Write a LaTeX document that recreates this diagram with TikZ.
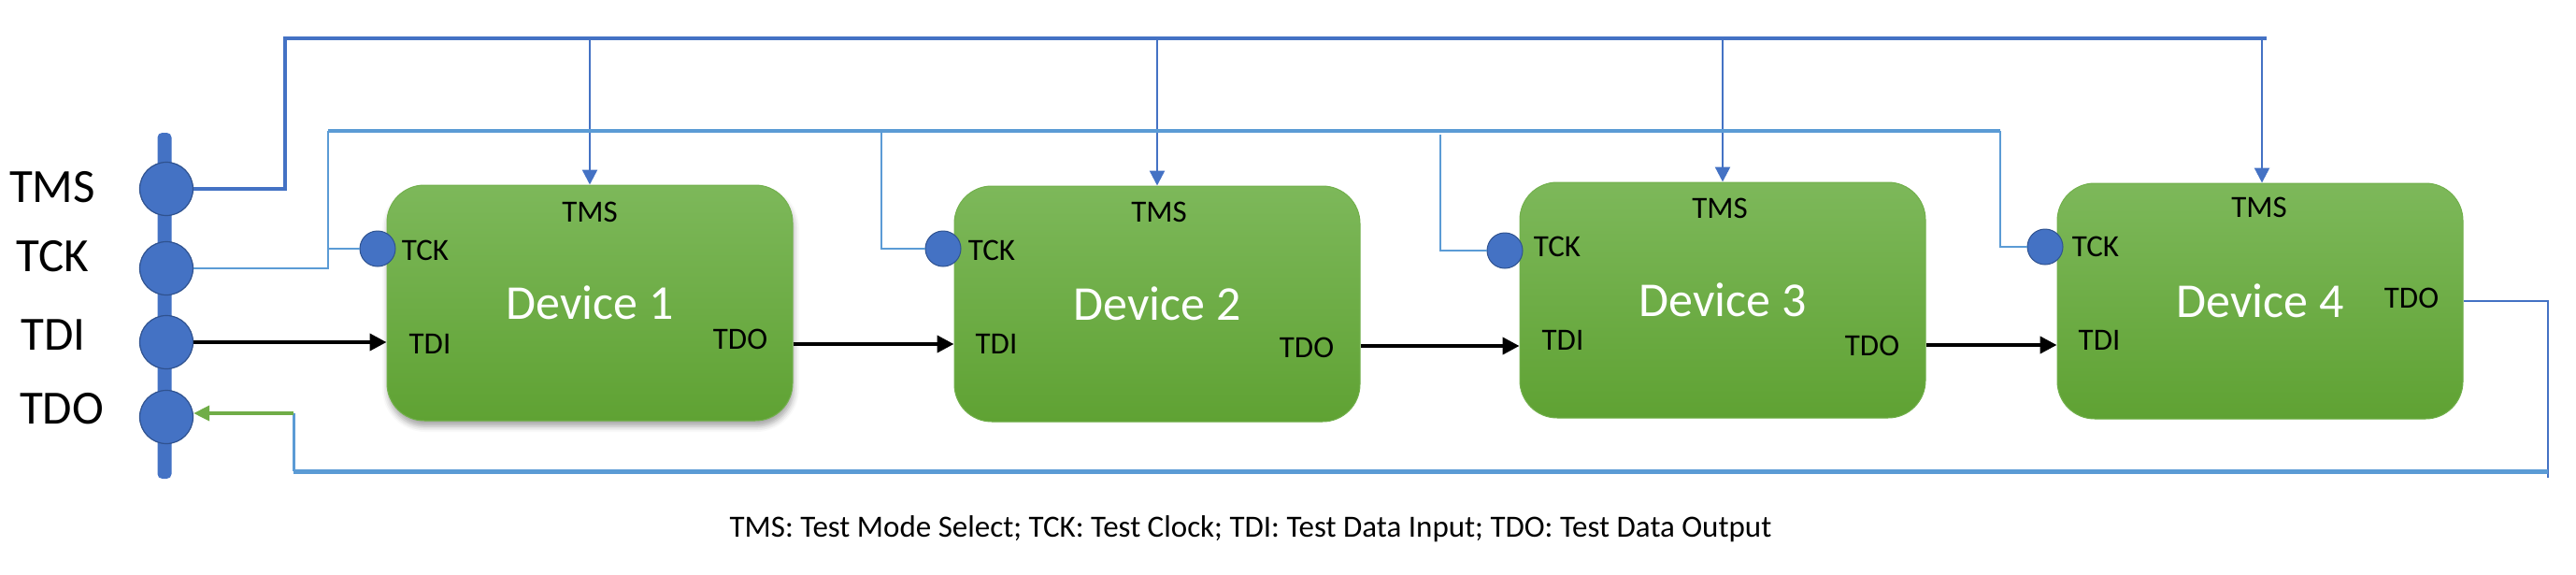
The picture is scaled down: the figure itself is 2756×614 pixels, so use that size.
\documentclass[tikz,border=0pt]{standalone}
\usepackage{fontspec}
\setmainfont{Carlito}
\usetikzlibrary{arrows.meta,shadows.blur}
\definecolor{tmsblue}{HTML}{4472C4}
\definecolor{tckblue}{HTML}{5B9BD5}
\definecolor{pinedge}{HTML}{2F528F}
\definecolor{gtop}{HTML}{7DB85A}
\definecolor{gbot}{HTML}{5FA233}
\definecolor{gedge}{HTML}{72B04C}
\definecolor{tdogreen}{HTML}{70AD47}
\begin{document}
\begin{tikzpicture}[x=1pt,y=-1pt,
  device/.style={rectangle, rounded corners=40pt, minimum width=434pt, minimum height=252pt,
    top color=gtop, bottom color=gbot, draw=gedge, line width=1pt, text=white,
    font=\fontsize{52}{60}\selectfont, inner sep=0pt},
  pin/.style={circle, fill=tmsblue, draw=pinedge, line width=1.2pt, minimum size=57pt, inner sep=0pt},
  port/.style={circle, fill=tmsblue, draw=pinedge, line width=1pt, minimum size=38pt, inner sep=0pt},
  pinlabel/.style={font=\fontsize{51}{60}\selectfont, inner sep=0pt},
  portlabel/.style={font=\fontsize{33}{40}\selectfont, inner sep=0pt},
  tmsbus/.style={draw=tmsblue, line width=3.5pt},
  tmsdrop/.style={draw=tmsblue, line width=2.5pt, -{Triangle[length=16pt,width=16pt]}},
  tckbus/.style={draw=tckblue, line width=4.5pt},
  tckline/.style={draw=tckblue, line width=2.5pt},
  dataarrow/.style={draw=black, line width=4pt, -{Triangle[length=18pt,width=18pt]}},
  retbus/.style={draw=tckblue, line width=5pt},
  retline/.style={draw=tmsblue, line width=2.5pt},
  retup/.style={draw=tckblue, line width=3pt},
  greenarrow/.style={draw=tdogreen, line width=3.5pt, -{Triangle[length=17pt,width=16pt]}}
]
\useasboundingbox (0,0) rectangle (2756,614);

% left connector bar and pins
\node[fill=tmsblue, rounded corners=5pt, minimum width=15pt, minimum height=370pt, inner sep=0pt] (bar) at (176,327) {};
\node[pin] (ptms) at (178,202) {};
\node[pin] (ptck) at (178,287) {};
\node[pin] (ptdi) at (178,366) {};
\node[pin] (ptdo) at (178,446) {};
\node[pinlabel] (ltms) at (56,200) {TMS};
\node[pinlabel] (ltck) at (56,274) {TCK};
\node[pinlabel] (ltdi) at (57,358) {TDI};
\node[pinlabel] (ltdo) at (66,437) {TDO};

% devices
\node[device, blur shadow={shadow xshift=1pt, shadow yshift=-6pt, shadow blur radius=6pt, shadow opacity=35}] (d1) at (631,324) {Device 1};
\node[device] (d2) at (1238,325) {Device 2};
\node[device] (d3) at (1843,321) {Device 3};
\node[device] (d4) at (2418,322) {Device 4};

% device port labels
\node[portlabel] (d1tms) at (631,227) {TMS};
\node[portlabel] (d1tck) at (455,268) {TCK};
\node[portlabel] (d1tdi) at (460,368) {TDI};
\node[portlabel] (d1tdo) at (792,363) {TDO};
\node[portlabel] (d2tms) at (1240,227) {TMS};
\node[portlabel] (d2tck) at (1061,268) {TCK};
\node[portlabel] (d2tdi) at (1066,368) {TDI};
\node[portlabel] (d2tdo) at (1398,372) {TDO};
\node[portlabel] (d3tms) at (1840,223) {TMS};
\node[portlabel] (d3tck) at (1666,264) {TCK};
\node[portlabel] (d3tdi) at (1672,364) {TDI};
\node[portlabel] (d3tdo) at (2003,370) {TDO};
\node[portlabel] (d4tms) at (2417,222) {TMS};
\node[portlabel] (d4tck) at (2242,264) {TCK};
\node[portlabel] (d4tdi) at (2246,364) {TDI};
\node[portlabel] (d4tdo) at (2580,319) {TDO};

% TCK port circles
\node[port] (c1) at (404,266) {};
\node[port] (c2) at (1009,266) {};
\node[port] (c3) at (1610,268) {};
\node[port] (c4) at (2188,264) {};

% bus coordinates
\coordinate (tmsL) at (305,41);
\coordinate (tmsR) at (2425,41);
\coordinate (tckL) at (351,140);
\coordinate (tck2) at (943,140);
\coordinate (tck3) at (1541,144);
\coordinate (tckR) at (2140,140);
\coordinate (retR) at (2726,511);
\coordinate (retBR) at (2726,504);
\coordinate (retBL) at (314,504);
\coordinate (g0) at (314,442);
\coordinate (o1) at ([yshift=-44pt]d1.east);
\coordinate (o2) at ([yshift=-45pt]d2.east);
\coordinate (o3) at ([yshift=-48pt]d3.east);

% TMS bus
\draw[tmsbus] (ptms.east) -| (tmsL) -- (tmsR);
\draw[tmsdrop] (tmsL -| d1.north) -- (d1.north);
\draw[tmsdrop] (tmsL -| d2.north) -- (d2.north);
\draw[tmsdrop] (tmsL -| d3.north) -- (d3.north);
\draw[tmsdrop] ([xshift=2pt]tmsL -| d4.north) -- ([xshift=2pt]d4.north);

% TCK bus
\draw[tckline] (ptck.east) -| (tckL);
\draw[tckbus] (tckL) -- (tckR);
\draw[tckline] (tckL |- c1) -- (c1.west);
\draw[tckline] (tck2) |- (c2.west);
\draw[tckline] (tck3) |- (c3.west);
\draw[tckline] (tckR) |- (c4.west);

% TDI / TDO chain
\draw[dataarrow] (ptdi.east) -- (ptdi.east -| d1.west);
\draw[dataarrow] (o1) -- (o1 -| d2.west);
\draw[dataarrow] (o2) -- (o2 -| d3.west);
\draw[dataarrow] (o3) -- (o3 -| d4.west);

% return path
\draw[retline] (d4.east) -| (retR);
\draw[retbus] (retBR) -- (retBL);
\draw[retup] (retBL) -- (g0);
\draw[greenarrow] (g0) -- (g0 -| ptdo.east);

% caption
\node[font=\fontsize{33}{39}\selectfont, inner sep=0pt] (cap) at (1338,566) {TMS: Test Mode Select; TCK: Test Clock; TDI: Test Data Input; TDO: Test Data Output};
\end{tikzpicture}
\end{document}
